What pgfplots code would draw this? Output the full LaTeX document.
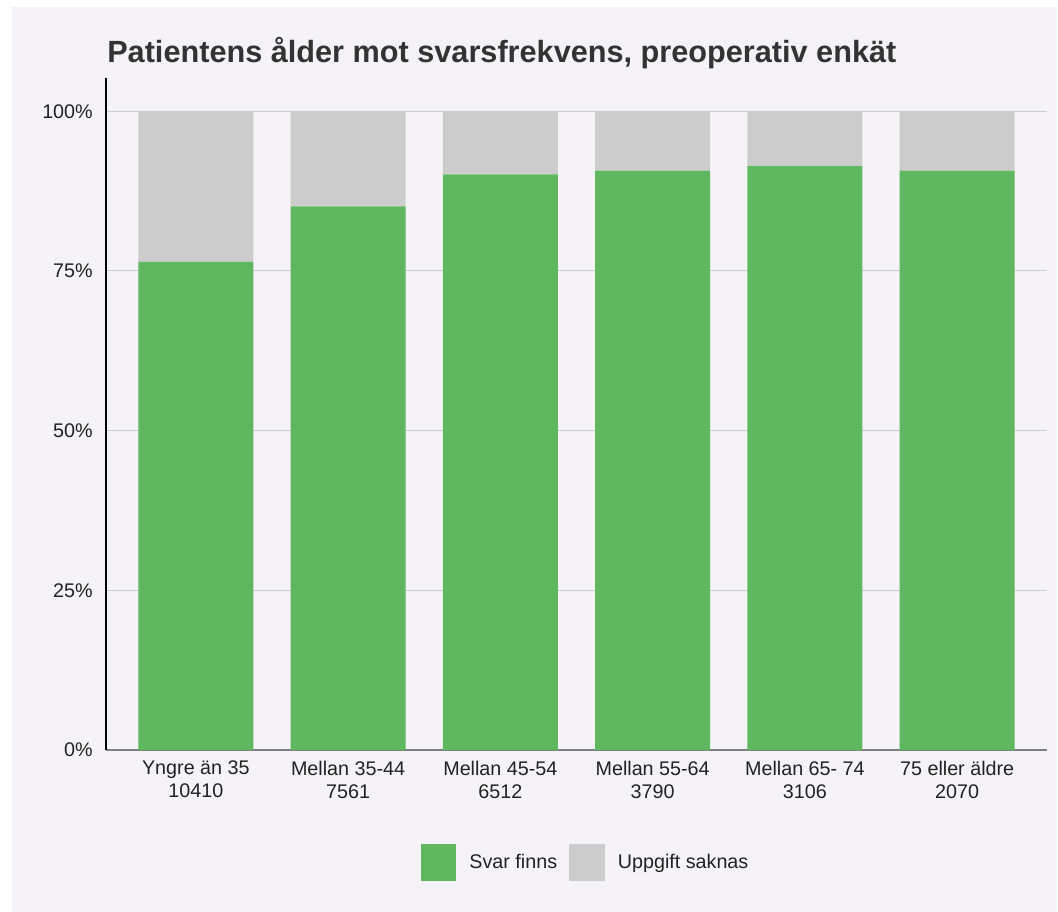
\documentclass[border=0pt]{standalone}
\usepackage{pgfplots}
\pgfplotsset{compat=1.18}
\usepackage{fontspec}
\setmainfont{Liberation Sans}
\definecolor{bgcol}{HTML}{F5F3F7}
\definecolor{svar}{HTML}{5FB760}
\definecolor{saknas}{HTML}{CCCCCC}
\definecolor{txt}{HTML}{222222}
\begin{document}
\begin{tikzpicture}
% pixel frame: 1px = 0.75pt, y downward
\path (0pt,0pt) rectangle (793.5pt,-684pt);
\fill[bgcol] (9pt,-5.25pt) rectangle (792.75pt,-684pt);
\node[anchor=base west, inner sep=0pt, text=black!80, font=\fontsize{23}{27}\selectfont\bfseries]
  at (80.25pt,-47.25pt) {Patientens ålder mot svarsfrekvens, preoperativ enkät};
\begin{axis}[
    at={(79.5pt,-562.5pt)}, anchor=south west,
    scale only axis,
    width=705.75pt, height=504pt,
    ybar stacked,
    bar width=86.25pt,
    xmin=-0.59, xmax=5.59,
    ymin=0, ymax=105.2,
    xtick={0,1,2,3,4,5},
    xticklabels={Yngre än 35\\10410, Mellan 35-44\\7561, Mellan 45-54\\6512,
                 Mellan 55-64\\3790, Mellan 65- 74\\3106, 75 eller äldre\\2070},
    ytick={0,25,50,75,100},
    yticklabel={\pgfmathprintnumber{\tick}\%},
    /pgf/number format/assume math mode=true,
    major tick length=0pt,
    axis x line*=bottom, axis y line*=left,
    x axis line style={draw=black!50, line width=0.8pt, -},
    y axis line style={draw=black, line width=1.2pt, -},
    ymajorgrids=true,
    major grid style={draw=saknas, line width=0.8pt},
    tick label style={font=\fontsize{14.8}{17.25}\selectfont, text=txt},
    x tick label style={align=center, anchor=north, inner sep=0pt, yshift=-8pt},
    y tick label style={anchor=east, inner sep=0pt, xshift=-9.75pt},
    legend style={draw=none, fill=none, at={(0.51,-0.167)}, anchor=center,
        font=\fontsize{14.8}{17.25}\selectfont, text=txt,
        legend columns=-1,
        /tikz/every odd column/.append style={column sep=8pt},
        /tikz/every even column/.append style={column sep=7pt}},
    legend image code/.code={\fill[#1,draw=none] (0pt,-14pt) rectangle (26.5pt,14pt);},
]
\addplot[fill=svar, draw=none] coordinates {(0,76.4) (1,85.1) (2,90.1) (3,90.7) (4,91.4) (5,90.7)};
\addplot[fill=saknas, draw=none] coordinates {(0,23.6) (1,14.9) (2,9.9) (3,9.3) (4,8.6) (5,9.3)};
\legend{Svar finns, Uppgift saknas}
\end{axis}
\end{tikzpicture}
\end{document}
